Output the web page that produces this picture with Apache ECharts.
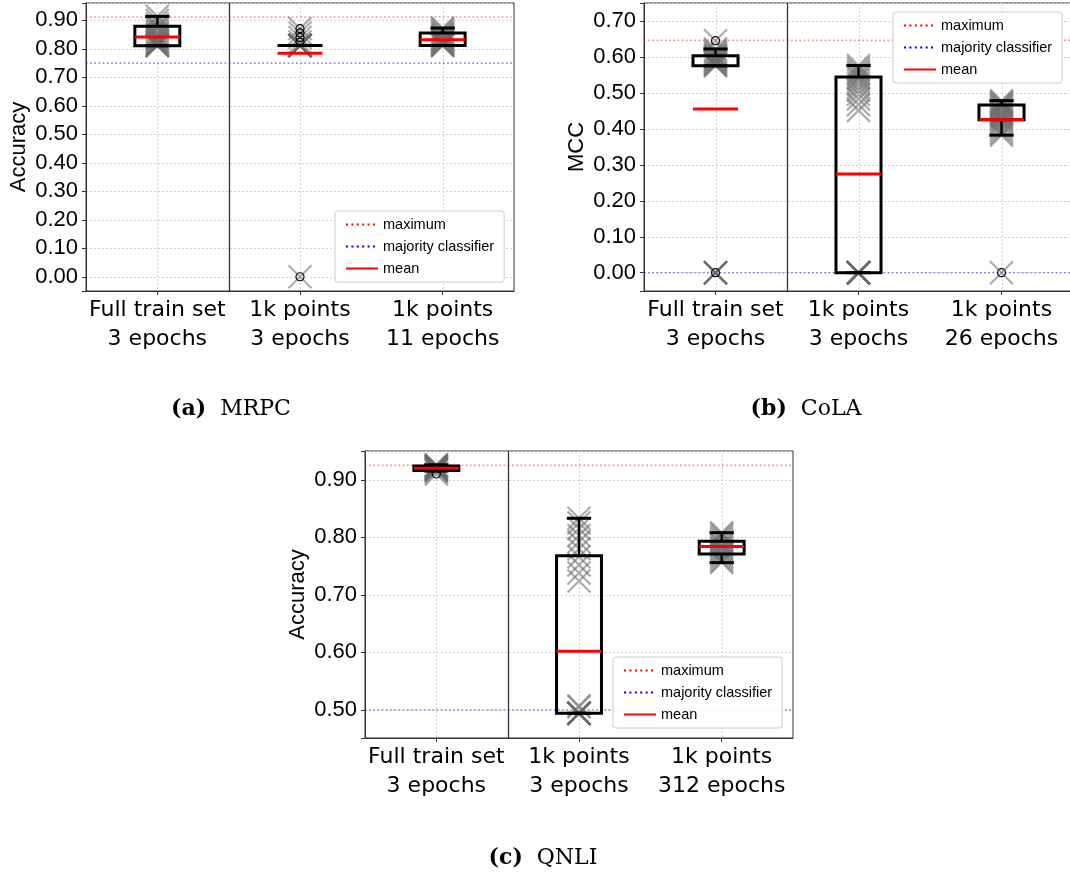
<!DOCTYPE html>
<html>
<head>
<meta charset="utf-8">
<script src="https://cdn.jsdelivr.net/npm/echarts@6/dist/echarts.min.js"></script>
<style>
  html, body { margin: 0; padding: 0; background: #ffffff; }
  #chart { width: 1070px; height: 876px; }
</style>
</head>
<body>
<div id="chart"></div>
<script>
// ---------- MRPC ----------
const mrpcCategories = ['Full train set\n3 epochs', '1k points\n3 epochs', '1k points\n11 epochs'];
// box statistics per category: [lower whisker, Q1, Q3, upper whisker]
const mrpcBoxes = [[0.811, 0.811, 0.879, 0.914], [0.812, 0.812, 0.812, 0.812], [0.812, 0.812, 0.856, 0.873]];
const mrpcMeans = [0.842, 0.785, 0.832];
const mrpcOutliers = [[], [0.824, 0.840, 0.856, 0.871, 0.000], []];
const mrpcRuns = [
  [0.811, 0.811, 0.814, 0.816, 0.819, 0.823, 0.826, 0.830, 0.835, 0.838, 0.843, 0.848, 0.853, 0.860, 0.868, 0.875, 0.879, 0.887, 0.900, 0.914],
  [0.000, 0.812, 0.812, 0.812, 0.812, 0.812, 0.812, 0.812, 0.812, 0.812, 0.812, 0.824, 0.840, 0.856, 0.871],
  [0.812, 0.812, 0.815, 0.818, 0.821, 0.825, 0.828, 0.831, 0.834, 0.838, 0.842, 0.846, 0.851, 0.856, 0.862, 0.868, 0.873]
];
const mrpcMaximum = 0.912;
const mrpcMajority = 0.750;
const mrpcTicks = [0.00, 0.10, 0.20, 0.30, 0.40, 0.50, 0.60, 0.70, 0.80, 0.90];

// ---------- CoLA ----------
const colaCategories = ['Full train set\n3 epochs', '1k points\n3 epochs', '1k points\n26 epochs'];
const colaBoxes = [[0.576, 0.576, 0.604, 0.623], [0.000, 0.000, 0.545, 0.577], [0.383, 0.426, 0.467, 0.479]];
const colaMeans = [0.456, 0.275, 0.426];
const colaOutliers = [[0.646, 0.000], [], [0.000]];
const colaRuns = [
  [0.000, 0.000, 0.000, 0.000, 0.000, 0.576, 0.578, 0.581, 0.584, 0.587, 0.590, 0.593, 0.596, 0.599, 0.602, 0.604, 0.608, 0.613, 0.618, 0.623, 0.646],
  [0.000, 0.000, 0.000, 0.000, 0.000, 0.000, 0.000, 0.000, 0.000, 0.000, 0.000, 0.000, 0.452, 0.468, 0.484, 0.497, 0.508, 0.517, 0.526, 0.534, 0.541, 0.545, 0.551, 0.557, 0.563, 0.570, 0.577],
  [0.000, 0.383, 0.389, 0.396, 0.403, 0.410, 0.416, 0.421, 0.426, 0.430, 0.434, 0.438, 0.442, 0.446, 0.450, 0.455, 0.460, 0.464, 0.467, 0.471, 0.475, 0.479]
];
const colaMaximum = 0.647;
const colaMajority = 0.000;
const colaTicks = [0.00, 0.10, 0.20, 0.30, 0.40, 0.50, 0.60, 0.70];

// ---------- QNLI ----------
const qnliCategories = ['Full train set\n3 epochs', '1k points\n3 epochs', '1k points\n312 epochs'];
const qnliBoxes = [[0.915, 0.916, 0.924, 0.926], [0.494, 0.494, 0.768, 0.833], [0.756, 0.771, 0.793, 0.808]];
const qnliMeans = [0.920, 0.602, 0.784];
const qnliOutliers = [[0.910], [], []];
const qnliRuns = [
  [0.910, 0.914, 0.916, 0.917, 0.918, 0.919, 0.920, 0.921, 0.922, 0.923, 0.924, 0.925, 0.926],
  [0.494, 0.494, 0.494, 0.494, 0.494, 0.494, 0.494, 0.494, 0.494, 0.494, 0.505, 0.507, 0.724, 0.738, 0.752, 0.766, 0.780, 0.792, 0.803, 0.815, 0.825, 0.833],
  [0.756, 0.759, 0.763, 0.767, 0.771, 0.774, 0.777, 0.780, 0.783, 0.786, 0.789, 0.793, 0.797, 0.801, 0.805, 0.808]
];
const qnliMaximum = 0.925;
const qnliMajority = 0.500;
const qnliTicks = [0.50, 0.60, 0.70, 0.80, 0.90];

const legendNames = ['maximum', 'majority classifier', 'mean'];

// ---------- layout of the three panels ----------
const panels = [
  { cats: mrpcCategories, boxes: mrpcBoxes, means: mrpcMeans, outliers: mrpcOutliers, runs: mrpcRuns,
    maximum: mrpcMaximum, majority: mrpcMajority, ticks: mrpcTicks, yName: 'Accuracy',
    grid: { left: 86, top: 3, width: 428, height: 288 }, yMin: -0.050, yMax: 0.961, split: 10,
    legend: { left: 335, top: 211 }, caption: { x: 231, y: 409, tag: '(a)', name: 'MRPC' } },
  { cats: colaCategories, boxes: colaBoxes, means: colaMeans, outliers: colaOutliers, runs: colaRuns,
    maximum: colaMaximum, majority: colaMajority, ticks: colaTicks, yName: 'MCC',
    grid: { left: 644, top: 3, width: 429, height: 288 }, yMin: -0.051, yMax: 0.751, split: 8,
    legend: { left: 893, top: 12 }, caption: { x: 806, y: 409, tag: '(b)', name: 'CoLA' } },
  { cats: qnliCategories, boxes: qnliBoxes, means: qnliMeans, outliers: qnliOutliers, runs: qnliRuns,
    maximum: qnliMaximum, majority: qnliMajority, ticks: qnliTicks, yName: 'Accuracy',
    grid: { left: 365, top: 451, width: 428, height: 287 }, yMin: 0.451, yMax: 0.950, split: 5,
    legend: { left: 613, top: 657 }, caption: { x: 543, y: 858, tag: '(c)', name: 'QNLI' } }
];

const SANS = '"Liberation Sans", Arial, sans-serif';
const WIDE_SANS = '"DejaVu Sans", sans-serif';
const SERIF = '"DejaVu Serif", "Liberation Serif", serif';
const FRAME = '#333333';

// ---------- renderers ----------
function renderGuides(params, api) {
  // dotted vertical grid line through each category centre
  const cs = params.coordSys;
  const x = Math.round(api.coord([api.value(0), api.value(1)])[0]) + 0.5;
  return { type: 'line', shape: { x1: x, y1: cs.y, x2: x, y2: cs.y + cs.height },
           style: { stroke: '#d2d2d2', lineWidth: 1, lineDash: [2, 2] } };
}
function renderSeparator(params, api) {
  // solid divider between the full-data run and the 1k-point runs
  const cs = params.coordSys;
  const band = api.size([1, 0])[0];
  const x = Math.round(api.coord([api.value(0), api.value(1)])[0] + band / 2) + 0.5;
  return { type: 'line', shape: { x1: x, y1: cs.y, x2: x, y2: cs.y + cs.height },
           style: { stroke: FRAME, lineWidth: 1.3 } };
}
function makeHLine(color) {
  return function (params, api) {
    const cs = params.coordSys;
    const y = api.coord([0, api.value(1)])[1];
    return { type: 'line', shape: { x1: cs.x, y1: y, x2: cs.x + cs.width, y2: y },
             style: { stroke: color, lineWidth: 1.6, lineDash: [1.6, 2.6] } };
  };
}
function renderCross(params, api) {
  const p = api.coord([api.value(0), api.value(1)]);
  const h = 11.5;
  return { type: 'path',
           shape: { pathData: `M${p[0] - h},${p[1] - h}L${p[0] + h},${p[1] + h}M${p[0] + h},${p[1] - h}L${p[0] - h},${p[1] + h}` },
           style: { stroke: 'rgba(105,105,105,0.55)', lineWidth: 2.2, fill: null } };
}
function renderBox(params, api) {
  const idx = api.value(0);
  const lo = api.coord([idx, api.value(1)]);
  const q1 = api.coord([idx, api.value(2)]);
  const q3 = api.coord([idx, api.value(3)]);
  const hi = api.coord([idx, api.value(4)]);
  const band = api.size([1, 0])[0];
  const bw = band * 0.315, cw = band * 0.17;
  const x = lo[0];
  const ln = (x1, y1, x2, y2, w) => ({ type: 'line', shape: { x1, y1, x2, y2 }, style: { stroke: '#000', lineWidth: w } });
  return { type: 'group', children: [
    ln(x, hi[1], x, q3[1], 2.4),
    ln(x, q1[1], x, lo[1], 2.4),
    ln(x - cw / 2, hi[1], x + cw / 2, hi[1], 3),
    ln(x - cw / 2, lo[1], x + cw / 2, lo[1], 3),
    { type: 'rect', shape: { x: x - bw / 2, y: q3[1], width: bw, height: Math.max(q1[1] - q3[1], 0) },
      style: { stroke: '#000', fill: null, lineWidth: 3 } }
  ] };
}
function renderMean(params, api) {
  const p = api.coord([api.value(0), api.value(1)]);
  const bw = api.size([1, 0])[0] * 0.315;
  return { type: 'line', shape: { x1: p[0] - bw / 2, y1: p[1], x2: p[0] + bw / 2, y2: p[1] },
           style: { stroke: '#ff0000', lineWidth: 3 } };
}
function renderOutlier(params, api) {
  const p = api.coord([api.value(0), api.value(1)]);
  return { type: 'circle', shape: { cx: p[0], cy: p[1], r: 4 },
           style: { stroke: '#000', lineWidth: 1.2, fill: null } };
}

// ---------- option assembly ----------
const grids = [], xAxes = [], yAxes = [], series = [], legends = [], graphics = [];

panels.forEach((P, i) => {
  grids.push(Object.assign({ show: true, borderColor: FRAME, borderWidth: 1, backgroundColor: 'transparent',
                             containLabel: false, outerBoundsMode: 'none' }, P.grid));
  xAxes.push({
    type: 'category', gridIndex: i, data: P.cats, boundaryGap: true,
    axisLine: { show: true, onZero: false, lineStyle: { color: FRAME, width: 1 } },
    axisTick: { show: true, alignWithLabel: true, length: 4, lineStyle: { color: FRAME } },
    axisLabel: { fontFamily: WIDE_SANS, fontSize: 22, color: '#000', lineHeight: 29, margin: 5, interval: 0 },
    splitLine: { show: false }
  });
  const ticks = P.ticks;
  yAxes.push({
    type: 'value', gridIndex: i, min: P.yMin, max: P.yMax, splitNumber: P.split,
    name: P.yName, nameLocation: 'middle', nameGap: 56, nameRotate: 90,
    nameTextStyle: { fontFamily: SANS, fontSize: 22, color: '#000' },
    axisLine: { show: true, onZero: false, lineStyle: { color: FRAME, width: 1 } },
    axisTick: { show: true, length: 4, lineStyle: { color: FRAME } },
    axisLabel: {
      fontFamily: SANS, fontSize: 22, color: '#000', margin: 8,
      formatter: v => (ticks.some(t => Math.abs(t - v) < 1e-6) ? v.toFixed(2) : '')
    },
    splitLine: { show: true, lineStyle: { color: '#d2d2d2', width: 1, type: [2, 2] } }
  });

  const ax = { xAxisIndex: i, yAxisIndex: i };
  series.push(Object.assign({ type: 'custom', name: 'grid' + i, z: 1, silent: true,
    data: P.cats.map((c, k) => [k, P.ticks[0]]), renderItem: renderGuides }, ax));
  series.push(Object.assign({ type: 'custom', name: 'max' + i, z: 2, silent: true,
    data: [[0, P.maximum]], renderItem: makeHLine('rgba(255,40,40,0.55)') }, ax));
  series.push(Object.assign({ type: 'custom', name: 'majority' + i, z: 2, silent: true,
    data: [[0, P.majority]], renderItem: makeHLine('rgba(40,40,255,0.55)') }, ax));
  series.push(Object.assign({ type: 'custom', name: 'divider' + i, z: 3, silent: true,
    data: [[0, P.ticks[0]]], renderItem: renderSeparator }, ax));

  const runPts = [];
  P.runs.forEach((arr, k) => arr.forEach(v => runPts.push([k, v])));
  series.push(Object.assign({ type: 'custom', name: 'runs' + i, z: 4, silent: true,
    data: runPts, renderItem: renderCross }, ax));
  series.push(Object.assign({ type: 'custom', name: 'box' + i, z: 5, silent: true,
    data: P.boxes.map((b, k) => [k].concat(b)), renderItem: renderBox }, ax));
  series.push(Object.assign({ type: 'custom', name: 'means' + i, z: 6, silent: true,
    data: P.means.map((m, k) => [k, m]), renderItem: renderMean }, ax));
  const outPts = [];
  P.outliers.forEach((arr, k) => arr.forEach(v => outPts.push([k, v])));
  series.push(Object.assign({ type: 'custom', name: 'fliers' + i, z: 7, silent: true,
    data: outPts, renderItem: renderOutlier }, ax));

  legends.push({
    data: legendNames, orient: 'vertical', left: P.legend.left, top: P.legend.top,
    itemWidth: 32, itemHeight: 14, itemGap: 7, padding: [6, 10, 6, 10],
    backgroundColor: 'rgba(255,255,255,0.9)', borderColor: '#cccccc', borderWidth: 1, borderRadius: 3,
    itemStyle: { color: 'rgba(0,0,0,0)', borderColor: 'rgba(0,0,0,0)', borderWidth: 0 },
    textStyle: { fontFamily: SANS, fontSize: 14.5, color: '#000' }, selectedMode: false, z: 20
  });

  graphics.push({
    type: 'text', x: P.caption.x, y: P.caption.y, z: 20,
    style: {
      text: `{b|${P.caption.tag}}{r|${P.caption.name}}`,
      align: 'center', verticalAlign: 'middle',
      rich: {
        b: { fontFamily: SERIF, fontWeight: 'bold', fontSize: 22, fill: '#000', padding: [0, 14, 0, 0] },
        r: { fontFamily: SERIF, fontSize: 22, fill: '#000' }
      }
    }
  });
});

// legend-only entries (line style swatches)
series.push({ type: 'line', name: 'maximum', xAxisIndex: 0, yAxisIndex: 0, data: [], symbol: 'none',
              itemStyle: { color: '#ff0000' }, lineStyle: { color: '#ff0000', width: 2, type: [2, 3.4] } });
series.push({ type: 'line', name: 'majority classifier', xAxisIndex: 0, yAxisIndex: 0, data: [], symbol: 'none',
              itemStyle: { color: '#0000ff' }, lineStyle: { color: '#0000ff', width: 2, type: [2, 3.4] } });
series.push({ type: 'line', name: 'mean', xAxisIndex: 0, yAxisIndex: 0, data: [], symbol: 'none',
              itemStyle: { color: '#ff0000' }, lineStyle: { color: '#ff0000', width: 2.5 } });

const chart = echarts.init(document.getElementById('chart'), null, { renderer: 'canvas' });
chart.setOption({
  animation: false,
  backgroundColor: '#ffffff',
  grid: grids, xAxis: xAxes, yAxis: yAxes, legend: legends, series: series, graphic: graphics
});
</script>
</body>
</html>
